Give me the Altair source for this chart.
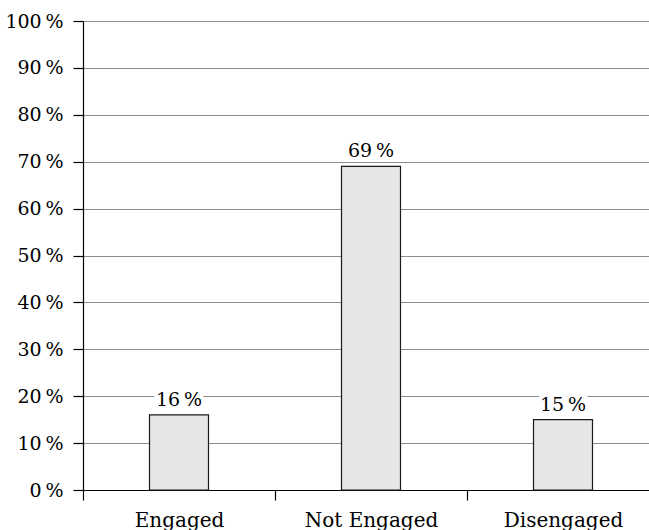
import altair as alt
import pandas as pd

categories = ["Engaged", "Not Engaged", "Disengaged"]
shares = [16, 69, 15]

df = pd.DataFrame({"group": categories, "share": shares})
df["label"] = df["share"].astype(str) + "\u2009%"

FONT = "DejaVu Serif"

x = alt.X(
    "group:N",
    sort=categories,
    scale=alt.Scale(range=[0, 576], paddingInner=0, paddingOuter=0),
    axis=alt.Axis(
        title=None,
        labelAngle=0,
        tickBand="extent",
        tickSize=10,
        tickColor="black",
        domainColor="black",
        labelFont=FONT,
        labelFontSize=20,
        labelColor="black",
        labelBaseline="alphabetic",
        labelPadding=26,
        grid=False,
    ),
)
y = alt.Y(
    "share:Q",
    scale=alt.Scale(domain=[0, 100], nice=False),
    axis=alt.Axis(
        title=None,
        values=list(range(0, 101, 10)),
        labelExpr="datum.value + '\u2009%'",
        tickSize=10,
        tickColor="black",
        domainColor="black",
        labelFont=FONT,
        labelFontSize=19,
        labelColor="black",
        labelPadding=10,
        gridColor="#8c8c8c",
        gridOpacity=1,
    ),
)

base = alt.Chart(df).encode(x=x, y=y)

bars = base.mark_bar(size=59, color="#e6e6e6", stroke="#1a1a1a", strokeWidth=1.2)

# white halo behind the value labels so the gridlines break around them
halo = base.mark_text(
    font=FONT, fontSize=19, baseline="alphabetic", dy=-9,
    stroke="white", strokeWidth=8, color="white",
).encode(text="label:N")

labels = base.mark_text(
    font=FONT, fontSize=19, baseline="alphabetic", dy=-9, color="black",
).encode(text="label:N")

chart = (
    alt.layer(bars, halo, labels)
    .properties(
        width=566,
        height=469,
        autosize=alt.AutoSizeParams(type="none"),
        padding={"left": 83, "top": 21, "right": 0, "bottom": 40},
    )
    .configure_view(stroke=None)
    .configure_axis(domainWidth=1.2, tickWidth=1.2, gridWidth=1)
)

chart.save("out.html", embed_options={"renderer": "svg", "actions": False})
